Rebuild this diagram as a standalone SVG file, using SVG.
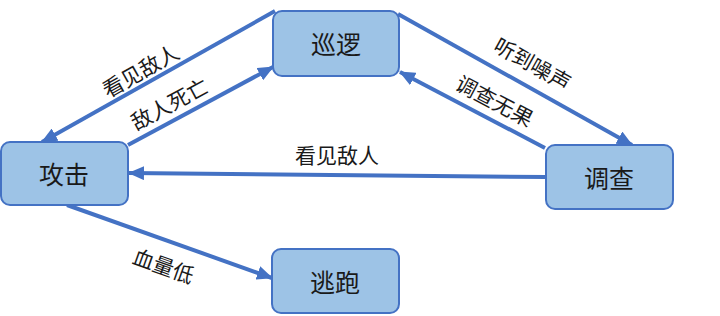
<svg xmlns="http://www.w3.org/2000/svg" width="720" height="316" viewBox="0 0 720 316">
<style>
.node rect{fill:#9dc3e6;stroke:#4472c4;stroke-width:2}
.node text{font-family:"Noto Sans CJK SC","Liberation Sans",sans-serif;font-size:25px;fill:#1a1a1a;text-anchor:middle;dominant-baseline:central}
.edge line{stroke:#4472c4;stroke-width:4;marker-end:url(#ah)}
.lbl{font-family:"Noto Sans CJK SC","Liberation Sans",sans-serif;font-size:21px;fill:#1a1a1a;text-anchor:middle;dominant-baseline:central}
</style>
<defs>
<marker id="ah" markerUnits="userSpaceOnUse" markerWidth="16" markerHeight="14" refX="15" refY="7" orient="auto">
<path d="M0,0 L16,7 L0,14 Z" fill="#4472c4"/>
</marker>
</defs>
<rect width="720" height="316" fill="#ffffff"/>
<g id="connectors" class="edge">
<line x1="275" y1="11" x2="42" y2="142"/>
<line x1="128" y1="145" x2="273" y2="67"/>
<line x1="398" y1="14" x2="632" y2="145"/>
<line x1="545" y1="148" x2="400" y2="72"/>
<line x1="546" y1="177" x2="129" y2="173"/>
<line x1="67" y1="205" x2="272" y2="278"/>
</g>
<g id="labels">
<text class="lbl" transform="translate(140,70) rotate(-29.5)">看见敌人</text>
<text class="lbl" transform="translate(169,103) rotate(-28.3)">敌人死亡</text>
<text class="lbl" transform="translate(533,63) rotate(29.4)">听到噪声</text>
<text class="lbl" transform="translate(495,100) rotate(27.7)">调查无果</text>
<text class="lbl" x="337" y="154">看见敌人</text>
<text class="lbl" transform="translate(164,265) rotate(19.6)">血量低</text>
</g>
<g id="patrol" class="node"><rect x="273" y="11" width="126" height="65" rx="9"/><text x="336" y="43">巡逻</text></g>
<g id="attack" class="node"><rect x="1" y="142" width="127" height="63" rx="9"/><text x="64" y="173">攻击</text></g>
<g id="investigate" class="node"><rect x="546" y="145" width="127" height="64" rx="9"/><text x="609" y="177">调查</text></g>
<g id="flee" class="node"><rect x="272" y="249" width="127" height="64" rx="9"/><text x="335" y="281">逃跑</text></g>
</svg>
